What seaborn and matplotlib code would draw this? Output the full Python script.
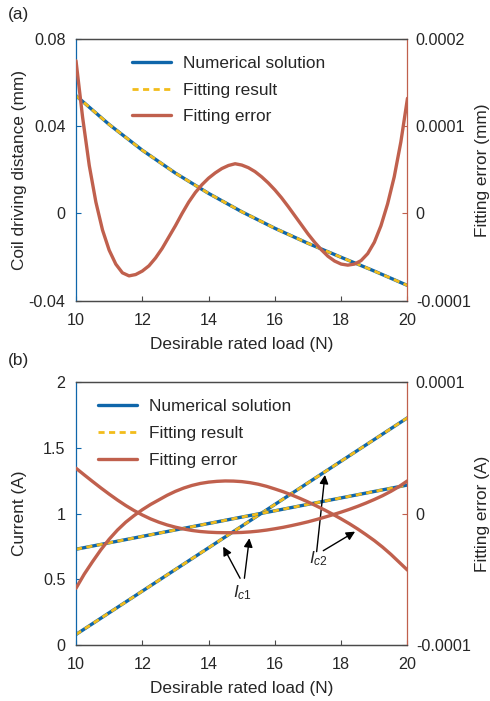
import numpy as np
import pandas as pd
import matplotlib
matplotlib.use("Agg")
import matplotlib.pyplot as plt
import seaborn as sns
from matplotlib.lines import Line2D

# ---------------- data ----------------
load = [10, 11, 12, 13, 14, 15, 16, 17, 18, 19, 20]
coil_numerical = [0.0540, 0.0408, 0.0290, 0.0185, 0.0092, 0.0008, -0.0068, -0.0137, -0.0201, -0.0264, -0.0330]
coil_fit = [0.0540, 0.0408, 0.0290, 0.0185, 0.0092, 0.0008, -0.0068, -0.0137, -0.0201, -0.0264, -0.0330]

load_fine = [10.0, 10.2, 10.4, 10.6, 10.8, 11.0, 11.2, 11.4, 11.6, 11.8,
             12.0, 12.2, 12.4, 12.6, 12.8, 13.0, 13.2, 13.4, 13.6, 13.8,
             14.0, 14.2, 14.4, 14.6, 14.8, 15.0, 15.2, 15.4, 15.6, 15.8,
             16.0, 16.2, 16.4, 16.6, 16.8, 17.0, 17.2, 17.4, 17.6, 17.8,
             18.0, 18.2, 18.4, 18.6, 18.8, 19.0, 19.2, 19.4, 19.6, 19.8, 20.0]
coil_err_e4 = [1.75, 1.10, 0.55, 0.13, -0.19, -0.42, -0.58, -0.68, -0.715, -0.70,
               -0.66, -0.60, -0.51, -0.40, -0.27, -0.14, 0.00, 0.13, 0.24, 0.33,
               0.405, 0.465, 0.515, 0.55, 0.57, 0.555, 0.525, 0.48, 0.42, 0.35,
               0.27, 0.18, 0.08, -0.025, -0.13, -0.235, -0.33, -0.415, -0.49, -0.545,
               -0.58, -0.592, -0.58, -0.54, -0.46, -0.33, -0.14, 0.11, 0.42, 0.82, 1.32]

ic1_numerical = [0.080, 0.245, 0.410, 0.575, 0.740, 0.905, 1.070, 1.235, 1.400, 1.565, 1.730]
ic1_fit = [0.080, 0.245, 0.410, 0.575, 0.740, 0.905, 1.070, 1.235, 1.400, 1.565, 1.730]
ic2_numerical = [0.729, 0.778, 0.827, 0.876, 0.925, 0.974, 1.022, 1.071, 1.120, 1.169, 1.218]
ic2_fit = [0.729, 0.778, 0.827, 0.876, 0.925, 0.974, 1.022, 1.071, 1.120, 1.169, 1.218]

load_q = [10.00, 10.25, 10.50, 10.75, 11.00, 11.25, 11.50, 11.75, 12.00, 12.25,
          12.50, 12.75, 13.00, 13.25, 13.50, 13.75, 14.00, 14.25, 14.50, 14.75,
          15.00, 15.25, 15.50, 15.75, 16.00, 16.25, 16.50, 16.75, 17.00, 17.25,
          17.50, 17.75, 18.00, 18.25, 18.50, 18.75, 19.00, 19.25, 19.50, 19.75, 20.00]
err_u_e4 = [0.346, 0.295, 0.245, 0.196, 0.149, 0.104, 0.062, 0.024, -0.010, -0.040,
            -0.065, -0.086, -0.103, -0.117, -0.128, -0.136, -0.141, -0.144, -0.145, -0.145,
            -0.143, -0.139, -0.133, -0.125, -0.115, -0.104, -0.091, -0.077, -0.062, -0.045,
            -0.027, -0.008, 0.012, 0.033, 0.056, 0.081, 0.108, 0.137, 0.170, 0.207, 0.250]
err_n_e4 = [-0.568, -0.460, -0.365, -0.275, -0.195, -0.125, -0.065, -0.015, 0.030, 0.070,
            0.105, 0.140, 0.170, 0.195, 0.215, 0.230, 0.240, 0.246, 0.249, 0.248,
            0.244, 0.236, 0.224, 0.208, 0.188, 0.167, 0.143, 0.117, 0.089, 0.059,
            0.028, -0.005, -0.040, -0.077, -0.117, -0.160, -0.205, -0.255, -0.310, -0.370, -0.430]

x_ticks = [10, 12, 14, 16, 18, 20]
top_left_ticks = [-0.04, 0, 0.04, 0.08]
top_left_labels = ["-0.04", "0", "0.04", "0.08"]
top_right_ticks = [-0.0001, 0, 0.0001, 0.0002]
top_right_labels = ["-0.0001", "0", "0.0001", "0.0002"]
bot_left_ticks = [0, 0.5, 1, 1.5, 2]
bot_left_labels = ["0", "0.5", "1", "1.5", "2"]
bot_right_ticks = [-0.0001, 0, 0.0001]
bot_right_labels = ["-0.0001", "0", "0.0001"]
legend_labels = ["Numerical solution", "Fitting result", "Fitting error"]

# ---------------- style ----------------
sns.set_style("ticks")
plt.rcParams["font.family"] = ["Liberation Sans", "DejaVu Sans"]
plt.rcParams["mathtext.fontset"] = "custom"
plt.rcParams["mathtext.rm"] = "Liberation Sans"
plt.rcParams["mathtext.it"] = "Liberation Sans:italic"

BLUE = "#0F66AA"
YELLOW = "#F2BC1B"
RED = "#C0604D"
GRAY = "#4a4a4a"
FS_TICK = 11.6
FS = 12.4
DASH = (0, (2.2, 1.6))

fig = plt.figure(figsize=(4.9, 7.01), dpi=100)


def style_axes(ax, ax2, lticks, llabels, lylim, rticks, rlabels, rylim, ylabel, rlabel):
    ax.set_xlim(10, 20)
    ax.set_ylim(*lylim)
    ax2.set_ylim(*rylim)
    ax.set_xticks(x_ticks)
    ax.set_xticklabels([str(t) for t in x_ticks], fontsize=FS_TICK)
    ax.set_yticks(lticks)
    ax.set_yticklabels(llabels, fontsize=FS_TICK)
    ax2.set_yticks(rticks)
    ax2.set_yticklabels(rlabels, fontsize=FS_TICK)
    for a in (ax, ax2):
        a.spines["top"].set_color(GRAY)
        a.spines["bottom"].set_color(GRAY)
        for s in a.spines.values():
            s.set_linewidth(0.9)
    ax.spines["left"].set_color(BLUE)
    ax.spines["right"].set_visible(False)
    ax2.spines["left"].set_visible(False)
    ax2.spines["right"].set_color(RED)
    ax.tick_params(axis="x", direction="in", length=3.5, width=0.8, color=GRAY, pad=9)
    ax.tick_params(axis="y", direction="in", length=3.5, width=0.8, color=BLUE, pad=7.5)
    ax2.tick_params(axis="y", direction="in", length=3.5, width=0.8, color=RED, pad=6)
    ax.set_xlabel("Desirable rated load (N)", fontsize=FS, labelpad=6)
    ax.set_ylabel(ylabel, fontsize=FS, va="center")
    ax2.set_ylabel(rlabel, fontsize=FS, rotation=90, va="center")
    ax.yaxis.set_label_coords(-0.170, 0.5)
    ax2.yaxis.set_label_coords(1.226, 0.5)
    ax.grid(False)
    ax2.grid(False)


def add_legend(ax2, anchor):
    handles = [Line2D([], [], color=BLUE, lw=2.4),
               Line2D([], [], color=YELLOW, lw=2.0, ls=DASH),
               Line2D([], [], color=RED, lw=2.4)]
    ax2.legend(handles, legend_labels, loc="upper left", bbox_to_anchor=anchor,
               frameon=False, fontsize=FS, handlelength=2.3, handletextpad=0.7,
               labelspacing=0.68, borderaxespad=0, borderpad=0)


# ---------------- panel (a) ----------------
ax1 = fig.add_axes([0.1551, 0.5710, 0.6765, 0.3734])
ax1b = ax1.twinx()
df_a = pd.DataFrame({"load": load, "num": coil_numerical, "fit": coil_fit})
df_ae = pd.DataFrame({"load": load_fine, "err": np.array(coil_err_e4) * 1e-4})
sns.lineplot(data=df_a, x="load", y="num", ax=ax1, color=BLUE, lw=2.4)
sns.lineplot(data=df_a, x="load", y="fit", ax=ax1, color=YELLOW, lw=2.0)
ax1.lines[-1].set_linestyle(DASH)
sns.lineplot(data=df_ae, x="load", y="err", ax=ax1b, color=RED, lw=2.4)
style_axes(ax1, ax1b, top_left_ticks, top_left_labels, (-0.04, 0.08),
           top_right_ticks, top_right_labels, (-0.0001, 0.0002),
           "Coil driving distance (mm)", "Fitting error (mm)")
add_legend(ax1b, (0.168, 0.936))
fig.text(8 / 490, 1 - 15 / 701, "(a)", fontsize=FS, va="center", ha="left")

# ---------------- panel (b) ----------------
ax2 = fig.add_axes([0.1551, 0.0799, 0.6765, 0.3747])
ax2b = ax2.twinx()
df_b = pd.DataFrame({"load": load, "ic1": ic1_numerical, "ic1f": ic1_fit,
                     "ic2": ic2_numerical, "ic2f": ic2_fit})
df_be = pd.DataFrame({"load": load_q, "eu": np.array(err_u_e4) * 1e-4,
                      "en": np.array(err_n_e4) * 1e-4})
for num, fit in (("ic1", "ic1f"), ("ic2", "ic2f")):
    sns.lineplot(data=df_b, x="load", y=num, ax=ax2, color=BLUE, lw=2.4)
    sns.lineplot(data=df_b, x="load", y=fit, ax=ax2, color=YELLOW, lw=2.0)
    ax2.lines[-1].set_linestyle(DASH)
sns.lineplot(data=df_be, x="load", y="eu", ax=ax2b, color=RED, lw=2.4)
sns.lineplot(data=df_be, x="load", y="en", ax=ax2b, color=RED, lw=2.4)
style_axes(ax2, ax2b, bot_left_ticks, bot_left_labels, (0, 2),
           bot_right_ticks, bot_right_labels, (-0.0001, 0.0001),
           "Current (A)", "Fitting error (A)")
add_legend(ax2b, (0.065, 0.936))
fig.text(8 / 490, 1 - 361 / 701, "(b)", fontsize=FS, va="center", ha="left")

arrow_kw = dict(arrowstyle="-|>", color="black", lw=1.0, mutation_scale=13,
                shrinkA=0, shrinkB=0)
ax2.annotate("", xy=(14.44, 0.749), xytext=(14.95, 0.508), arrowprops=arrow_kw)
ax2.annotate("", xy=(15.23, 0.813), xytext=(15.08, 0.508), arrowprops=arrow_kw)
ax2.annotate("", xy=(17.51, 1.295), xytext=(17.26, 0.711), arrowprops=arrow_kw)
ax2.annotate("", xy=(18.42, 0.863), xytext=(17.46, 0.718), arrowprops=arrow_kw)
ax2.text(15.01, 0.396, r"$I_{c1}$", fontsize=FS, ha="center", va="center")
ax2.text(17.30, 0.660, r"$I_{c2}$", fontsize=FS, ha="center", va="center")

for a in (ax1, ax2):
    leg = a.get_legend()
    if leg is not None:
        leg.remove()

fig.savefig("out.png", dpi=100)
